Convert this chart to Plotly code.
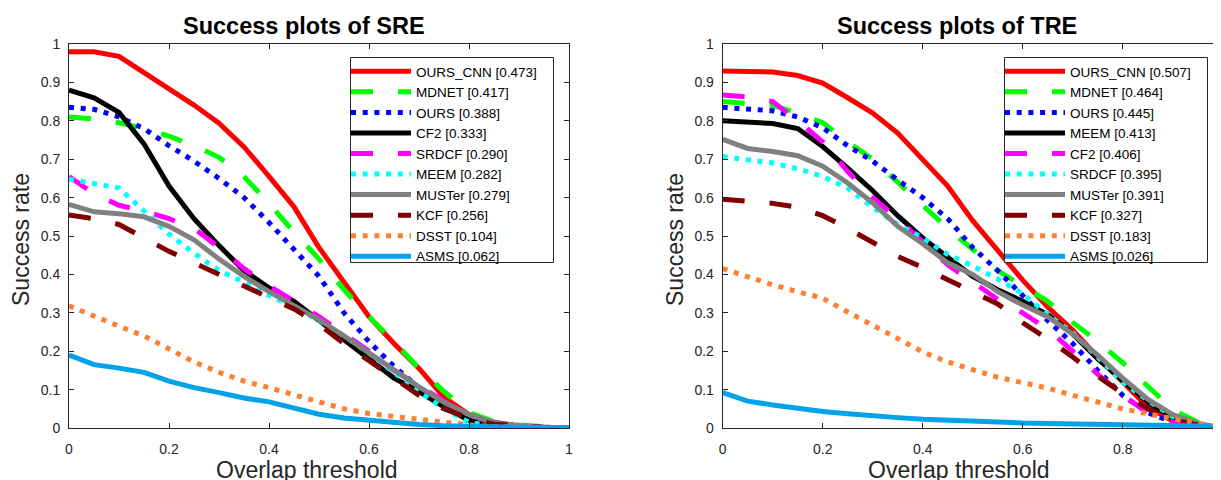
import plotly.graph_objects as go

# ---------------- data ----------------
thresholds = [0.0, 0.05, 0.1, 0.15, 0.2, 0.25, 0.3, 0.35, 0.4, 0.45, 0.5,
              0.55, 0.6, 0.65, 0.7, 0.75, 0.8, 0.85, 0.9, 0.95, 1.0]

sre_names = ["OURS_CNN [0.473]", "MDNET [0.417]", "OURS [0.388]", "CF2 [0.333]",
             "SRDCF [0.290]", "MEEM [0.282]", "MUSTer [0.279]", "KCF [0.256]",
             "DSST [0.104]", "ASMS [0.062]"]
sre_ours_cnn = [0.98, 0.98, 0.968, 0.926, 0.884, 0.841, 0.794, 0.732, 0.655, 0.576, 0.47,
                0.38, 0.29, 0.22, 0.155, 0.08, 0.035, 0.015, 0.006, 0.002, 0.0]
sre_mdnet = [0.81, 0.805, 0.795, 0.78, 0.76, 0.735, 0.705, 0.655, 0.585, 0.51, 0.44,
             0.36, 0.29, 0.225, 0.155, 0.095, 0.04, 0.017, 0.008, 0.003, 0.0]
sre_ours = [0.835, 0.83, 0.81, 0.78, 0.735, 0.695, 0.65, 0.6, 0.535, 0.465, 0.395,
            0.30, 0.225, 0.16, 0.105, 0.06, 0.03, 0.012, 0.005, 0.002, 0.0]
sre_cf2 = [0.88, 0.86, 0.822, 0.74, 0.63, 0.545, 0.475, 0.41, 0.365, 0.33, 0.28,
           0.23, 0.18, 0.13, 0.095, 0.055, 0.02, 0.008, 0.003, 0.001, 0.0]
sre_srdcf = [0.655, 0.61, 0.58, 0.565, 0.545, 0.52, 0.47, 0.415, 0.37, 0.33, 0.29,
             0.245, 0.2, 0.15, 0.11, 0.07, 0.035, 0.012, 0.004, 0.001, 0.0]
sre_meem = [0.648, 0.637, 0.625, 0.565, 0.505, 0.455, 0.41, 0.38, 0.345, 0.315, 0.28,
            0.24, 0.195, 0.145, 0.095, 0.05, 0.015, 0.005, 0.002, 0.001, 0.0]
sre_muster = [0.582, 0.563, 0.558, 0.55, 0.525, 0.49, 0.44, 0.395, 0.355, 0.32, 0.282,
              0.24, 0.195, 0.15, 0.107, 0.067, 0.035, 0.014, 0.005, 0.002, 0.0]
sre_kcf = [0.555, 0.545, 0.53, 0.495, 0.46, 0.43, 0.4, 0.37, 0.34, 0.31, 0.27,
           0.22, 0.175, 0.13, 0.085, 0.05, 0.025, 0.01, 0.004, 0.001, 0.0]
sre_dsst = [0.318, 0.29, 0.265, 0.24, 0.207, 0.172, 0.145, 0.122, 0.105, 0.088, 0.068,
            0.05, 0.038, 0.03, 0.022, 0.014, 0.008, 0.004, 0.002, 0.001, 0.0]
sre_asms = [0.19, 0.165, 0.156, 0.145, 0.122, 0.105, 0.092, 0.078, 0.068, 0.052, 0.036,
            0.026, 0.02, 0.014, 0.009, 0.006, 0.004, 0.003, 0.002, 0.001, 0.0]

tre_names = ["OURS_CNN [0.507]", "MDNET [0.464]", "OURS [0.445]", "MEEM [0.413]",
             "CF2 [0.406]", "SRDCF [0.395]", "MUSTer [0.391]", "KCF [0.327]",
             "DSST [0.183]", "ASMS [0.026]"]
tre_ours_cnn = [0.93, 0.929, 0.927, 0.918, 0.898, 0.86, 0.82, 0.768, 0.7, 0.63, 0.54,
                0.46, 0.385, 0.315, 0.255, 0.185, 0.12, 0.055, 0.018, 0.008, 0.0]
tre_mdnet = [0.85, 0.846, 0.84, 0.82, 0.795, 0.745, 0.7, 0.64, 0.58, 0.52, 0.465,
             0.41, 0.37, 0.33, 0.275, 0.225, 0.17, 0.11, 0.048, 0.015, 0.0]
tre_ours = [0.835, 0.832, 0.826, 0.81, 0.782, 0.735, 0.695, 0.646, 0.6, 0.545, 0.47,
            0.41, 0.345, 0.28, 0.22, 0.15, 0.085, 0.04, 0.015, 0.006, 0.0]
tre_meem = [0.8, 0.797, 0.793, 0.78, 0.733, 0.677, 0.618, 0.553, 0.495, 0.445, 0.395,
            0.36, 0.33, 0.295, 0.245, 0.18, 0.125, 0.068, 0.027, 0.01, 0.0]
tre_cf2 = [0.867, 0.862, 0.85, 0.8, 0.745, 0.668, 0.6, 0.545, 0.485, 0.425, 0.38,
           0.335, 0.3, 0.257, 0.2, 0.14, 0.085, 0.04, 0.015, 0.006, 0.0]
tre_srdcf = [0.707, 0.7, 0.69, 0.675, 0.655, 0.625, 0.575, 0.53, 0.495, 0.452, 0.422,
             0.388, 0.35, 0.295, 0.248, 0.185, 0.12, 0.072, 0.03, 0.01, 0.0]
tre_muster = [0.752, 0.728, 0.72, 0.709, 0.682, 0.638, 0.586, 0.525, 0.48, 0.43, 0.4,
              0.355, 0.32, 0.29, 0.245, 0.19, 0.13, 0.075, 0.035, 0.012, 0.0]
tre_kcf = [0.596, 0.592, 0.585, 0.575, 0.553, 0.52, 0.485, 0.447, 0.418, 0.386, 0.352,
           0.323, 0.274, 0.232, 0.185, 0.135, 0.09, 0.05, 0.022, 0.008, 0.0]
tre_dsst = [0.415, 0.393, 0.373, 0.355, 0.338, 0.302, 0.268, 0.235, 0.198, 0.172, 0.152,
            0.132, 0.118, 0.104, 0.085, 0.067, 0.05, 0.037, 0.024, 0.01, 0.0]
tre_asms = [0.092, 0.07, 0.06, 0.05, 0.043, 0.037, 0.031, 0.027, 0.023, 0.02, 0.018,
            0.015, 0.013, 0.012, 0.011, 0.01, 0.009, 0.008, 0.007, 0.005, 0.0]

x_ticks = [0, 0.2, 0.4, 0.6, 0.8, 1]
y_ticks = [0, 0.1, 0.2, 0.3, 0.4, 0.5, 0.6, 0.7, 0.8, 0.9, 1]

# ---------------- styles (by rank) ----------------
DASH = "22px,25px"
DOT = "5px,6.7px"
styles = [
    ("#FF0000", "solid"),
    ("#00FF00", DASH),
    ("#0000FF", DOT),
    ("#000000", "solid"),
    ("#FF00FF", DASH),
    ("#00FFFF", DOT),
    ("#808080", "solid"),
    ("#800000", DASH),
    ("#FF8030", DOT),
    ("#00A2E8", "solid"),
]

sre_series = [sre_ours_cnn, sre_mdnet, sre_ours, sre_cf2, sre_srdcf, sre_meem,
              sre_muster, sre_kcf, sre_dsst, sre_asms]
tre_series = [tre_ours_cnn, tre_mdnet, tre_ours, tre_meem, tre_cf2, tre_srdcf,
              tre_muster, tre_kcf, tre_dsst, tre_asms]

W, H = 1221, 480
OFF = 8  # the page body margin shifts the figure by 8px right and down
FONT = "Liberation Sans, Arial, Helvetica, sans-serif"
AX = "#262626"
LW = 5

# plot-area rows on screen
TOP_S, BOT_S = 44, 428


def px(sx):
    """screen column -> paper x"""
    return (sx - OFF) / W


def py(sy):
    """screen row -> paper y"""
    return (BOT_S - sy) / (BOT_S - TOP_S)


fig = go.Figure()
for names, series, xa, ya, lg in [(sre_names, sre_series, "x", "y", "legend"),
                                  (tre_names, tre_series, "x2", "y2", "legend2")]:
    for name, vals, (color, dash) in zip(names, series, styles):
        fig.add_trace(go.Scatter(
            x=thresholds, y=vals, mode="lines", name=name,
            line=dict(color=color, width=LW, dash=dash),
            xaxis=xa, yaxis=ya, legend=lg, hoverinfo="skip"))

axis_common = dict(
    showline=True, linecolor=AX, linewidth=1, mirror="ticks",
    ticks="inside", ticklen=5, tickcolor=AX, tickwidth=1,
    showgrid=False, zeroline=False, automargin=False,
    tickfont=dict(family=FONT, size=14, color=AX),
)

left_dom = [px(69), px(569)]
right_dom = [px(722.7), px(1222.7)]

fig.update_layout(
    width=W, height=H, autosize=False,
    margin=dict(l=0, r=0, t=TOP_S - OFF, b=H - (BOT_S - OFF), pad=0),
    paper_bgcolor="white", plot_bgcolor="white",
    font=dict(family=FONT, color="black"),
    xaxis=dict(domain=left_dom, range=[0, 1], tickvals=x_ticks,
               ticktext=[str(v) for v in x_ticks], anchor="y",
               ticklabelstandoff=8, **axis_common),
    yaxis=dict(domain=[0, 1], range=[0, 1], tickvals=y_ticks,
               ticktext=[str(v) for v in y_ticks], anchor="x",
               ticklabelstandoff=5, **axis_common),
    xaxis2=dict(domain=right_dom, range=[0, 1], tickvals=x_ticks,
                ticktext=[str(v) for v in x_ticks], anchor="y2",
                ticklabelstandoff=8, **axis_common),
    yaxis2=dict(domain=[0, 1], range=[0, 1], tickvals=y_ticks,
                ticktext=[str(v) for v in y_ticks], anchor="x2",
                ticklabelstandoff=5, **axis_common),
    showlegend=True,
)

legend_common = dict(
    xanchor="left", yanchor="top", bgcolor="rgba(0,0,0,0)", borderwidth=0,
    font=dict(family=FONT, size=13.5, color="black"), itemwidth=60,
    tracegroupgap=0, itemclick=False, itemdoubleclick=False,
)
fig.update_layout(
    legend=dict(x=px(346), y=py(56), **legend_common),
    legend2=dict(x=px(1000), y=py(56), **legend_common),
)

# legend boxes (white, drawn above the curves; legend entries sit on top)
for x0, x1 in [(350.5, 553.5), (1004.5, 1207.5)]:
    fig.add_shape(type="rect", xref="paper", yref="paper",
                  x0=px(x0), x1=px(x1), y0=py(262.5), y1=py(57.5),
                  line=dict(color=AX, width=1), fillcolor="white", layer="above")

# titles and axis labels
ann = []
for cx, title in [(304, "Success plots of SRE"), (957, "Success plots of TRE")]:
    ann.append(dict(text="<b>%s</b>" % title, x=px(cx), y=py(26), xref="paper", yref="paper",
                    xanchor="center", yanchor="middle", showarrow=False,
                    font=dict(family=FONT, size=23.5, color="black")))
for cx in [307, 959]:
    ann.append(dict(text="Overlap threshold", x=px(cx), y=py(470), xref="paper", yref="paper",
                    xanchor="center", yanchor="middle", showarrow=False,
                    font=dict(family=FONT, size=23, color=AX)))
for cx in [21, 675]:
    ann.append(dict(text="Success rate", x=px(cx), y=py(240), xref="paper", yref="paper",
                    xanchor="center", yanchor="middle", showarrow=False, textangle=-90,
                    font=dict(family=FONT, size=23, color=AX)))
fig.update_layout(annotations=ann)

fig.write_html("out.html")
